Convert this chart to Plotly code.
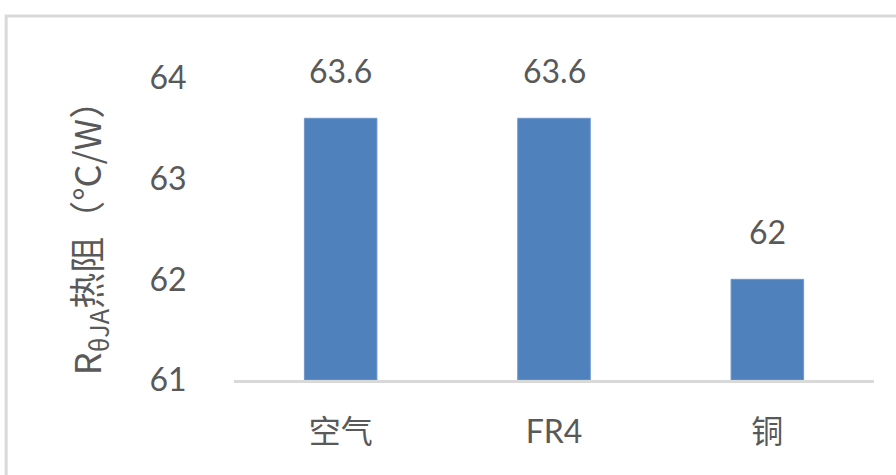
import plotly.graph_objects as go

categories = ["空气", "FR4", "铜"]
values = [63.6, 63.6, 62]
y_ticks = [61, 62, 63, 64]
y_title = "R<sub>θJA</sub>热阻（°C/W）"

TEXT = "#595959"
BAR = "#4f81bd"
FONT = "Lato, 'Noto Sans CJK SC', sans-serif"

fig = go.Figure()
fig.add_trace(go.Bar(
    x=categories,
    y=[v - y_ticks[0] for v in values],
    base=y_ticks[0],
    width=0.34,
    marker=dict(color=BAR, line=dict(color="#6f96cc", width=1)),
    hoverinfo="skip",
))
# value labels above each bar
for c, v in zip(categories, values):
    fig.add_annotation(
        x=c, y=v, text=f"{v:g}", showarrow=False,
        yanchor="bottom", yshift=26,
        font=dict(family=FONT, size=32, color=TEXT),
    )

fig.update_layout(
    width=896, height=475,
    margin=dict(l=234, r=22, t=78, b=95),
    paper_bgcolor="white", plot_bgcolor="white",
    showlegend=False,
    font=dict(family=FONT, color=TEXT),
    xaxis=dict(
        showgrid=False, showline=True, linecolor="#d9d9d9", linewidth=3,
        tickfont=dict(family=FONT, size=32, color=TEXT),
        ticks="outside", ticklen=22, tickcolor="rgba(0,0,0,0)",
        zeroline=False,
    ),
    yaxis=dict(
        range=[y_ticks[0], y_ticks[-1]], tickvals=y_ticks,
        showgrid=False, showline=False, zeroline=False,
        tickfont=dict(family=FONT, size=32, color=TEXT),
        ticks="outside", ticklen=40, tickcolor="rgba(0,0,0,0)",
        title=dict(text=y_title, standoff=36,
                   font=dict(family="'Noto Sans CJK SC', Lato, sans-serif", size=36, color=TEXT)),
    ),
    shapes=[dict(
        type="rect", xref="paper", yref="paper",
        x0=-0.356, x1=1.6, y0=-1.0, y1=1.205,
        line=dict(color="#d9d9d9", width=3), fillcolor="rgba(0,0,0,0)",
        layer="below",
    )],
)

fig.write_html("out.html")
